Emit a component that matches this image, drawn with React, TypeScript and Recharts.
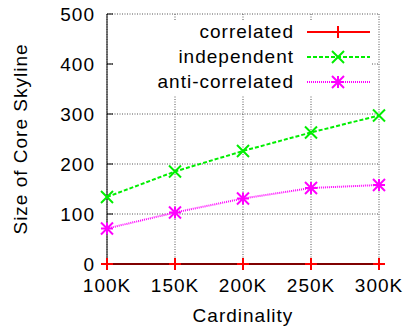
import React from 'react';
import { LineChart, Line, XAxis, YAxis, CartesianGrid, Legend, Label } from 'recharts';

const categories = ['100K', '150K', '200K', '250K', '300K'];
const correlated = [0, 0, 0, 0, 0];
const independent = [134, 185, 226, 263, 297];
const antiCorrelated = [71, 103, 131, 152, 158];
const yTicks = [0, 100, 200, 300, 400, 500];

const data = categories.map((c, i) => ({
  x: c,
  correlated: correlated[i],
  independent: independent[i],
  anti: antiCorrelated[i],
}));

const FONT = '"Liberation Sans", Arial, Helvetica, sans-serif';
const FS = 19;
const LS = 1;

type Shape = 'plus' | 'x' | 'star';

const drawMarker = (shape: Shape, cx: number, cy: number, color: string, key?: string | number) => {
  const r = 6;
  const sw = 2;
  if (shape === 'plus') {
    return (
      <g key={key}>
        <line x1={cx - r} y1={cy} x2={cx + r} y2={cy} stroke={color} strokeWidth={sw} />
        <line x1={cx} y1={cy - r} x2={cx} y2={cy + r} stroke={color} strokeWidth={sw} />
      </g>
    );
  }
  if (shape === 'x') {
    return (
      <g key={key}>
        <line x1={cx - r} y1={cy - r} x2={cx + r} y2={cy + r} stroke={color} strokeWidth={sw} />
        <line x1={cx - r} y1={cy + r} x2={cx + r} y2={cy - r} stroke={color} strokeWidth={sw} />
      </g>
    );
  }
  return (
    <g key={key}>
      <line x1={cx - r} y1={cy} x2={cx + r} y2={cy} stroke={color} strokeWidth={sw} />
      <line x1={cx} y1={cy - r} x2={cx} y2={cy + r} stroke={color} strokeWidth={sw} />
      <line x1={cx - r} y1={cy - r} x2={cx + r} y2={cy + r} stroke={color} strokeWidth={sw} />
      <line x1={cx - r} y1={cy + r} x2={cx + r} y2={cy - r} stroke={color} strokeWidth={sw} />
    </g>
  );
};

const series = [
  { key: 'correlated', name: 'correlated', color: '#ff0000', dash: undefined as string | undefined, shape: 'plus' as Shape },
  { key: 'independent', name: 'independent', color: '#00ee00', dash: '4 2', shape: 'x' as Shape },
  { key: 'anti', name: 'anti-correlated', color: '#ff00ff', dash: '1 1', shape: 'star' as Shape },
];

const makeDot = (shape: Shape, color: string) => (props: any) => {
  const { cx, cy, index } = props;
  if (cx == null || cy == null) return <g key={index} />;
  return drawMarker(shape, cx, cy, color, index);
};

const LegendContent = () => (
  <div style={{ background: '#fff', width: '100%', height: '100%', fontFamily: FONT, fontSize: FS, letterSpacing: LS, color: '#000' }}>
    {series.map((s) => (
      <div key={s.key} style={{ display: 'flex', alignItems: 'center', height: 24.7 }}>
        <div style={{ width: 180, textAlign: 'right', lineHeight: '24px', whiteSpace: 'nowrap' }}>{s.name}</div>
        <svg width={63} height={20} style={{ marginLeft: 13, display: 'block' }}>
          <line x1={0} y1={10} x2={63} y2={10} stroke={s.color} strokeWidth={2} strokeDasharray={s.dash} />
          {drawMarker(s.shape, 31, 10, s.color)}
        </svg>
      </div>
    ))}
  </div>
);

const tickStyle = { fontFamily: FONT, fontSize: FS, letterSpacing: LS, fill: '#000' };

export default function App() {
  return (
    <div style={{ position: 'absolute', left: 0, top: 0, width: 404, height: 332, background: '#fff' }}>
      <LineChart width={404} height={332} data={data} margin={{ top: 14, right: 25, left: 0, bottom: 0 }}>
        <CartesianGrid stroke="#555" strokeDasharray="1 1.5" strokeWidth={1} />
        <XAxis
          dataKey="x"
          height={68}
          stroke="#000"
          tick={tickStyle}
          tickSize={-6}
          tickMargin={21}
          axisLine={{ stroke: '#000' }}
          tickLine={{ stroke: '#000' }}
        >
          <Label value="Cardinality" position="insideBottom" offset={10} style={{ fontFamily: FONT, fontSize: FS, letterSpacing: LS, fill: '#000' }} />
        </XAxis>
        <XAxis xAxisId="top" dataKey="x" orientation="top" height={0} tick={false} tickSize={-6} axisLine={{ stroke: '#000' }} tickLine={{ stroke: '#000' }} />
        <YAxis
          domain={[0, 500]}
          ticks={yTicks}
          width={107}
          tick={tickStyle}
          tickSize={-6}
          tickMargin={18}
          axisLine={{ stroke: '#000' }}
          tickLine={{ stroke: '#000' }}
        >
          <Label value="Size of Core Skyline" angle={-90} position="insideLeft" offset={20} style={{ textAnchor: 'middle', fontFamily: FONT, fontSize: FS, letterSpacing: LS, fill: '#000' }} />
        </YAxis>
        <YAxis yAxisId="right" orientation="right" domain={[0, 500]} ticks={yTicks} width={0} tick={false} tickSize={-6} axisLine={{ stroke: '#000' }} tickLine={{ stroke: '#000' }} />
        <Legend
          layout="vertical"
          align="center"
          verticalAlign="middle"
          content={<LegendContent />}
          wrapperStyle={{ position: 'absolute', top: 20, left: 114, width: 258, height: 76 }}
        />
        {series.map((s) => (
          <Line
            key={s.key}
            dataKey={s.key}
            name={s.name}
            stroke={s.color}
            strokeWidth={2}
            strokeDasharray={s.dash}
            dot={makeDot(s.shape, s.color)}
            activeDot={false}
            isAnimationActive={false}
          />
        ))}
      </LineChart>
    </div>
  );
}
